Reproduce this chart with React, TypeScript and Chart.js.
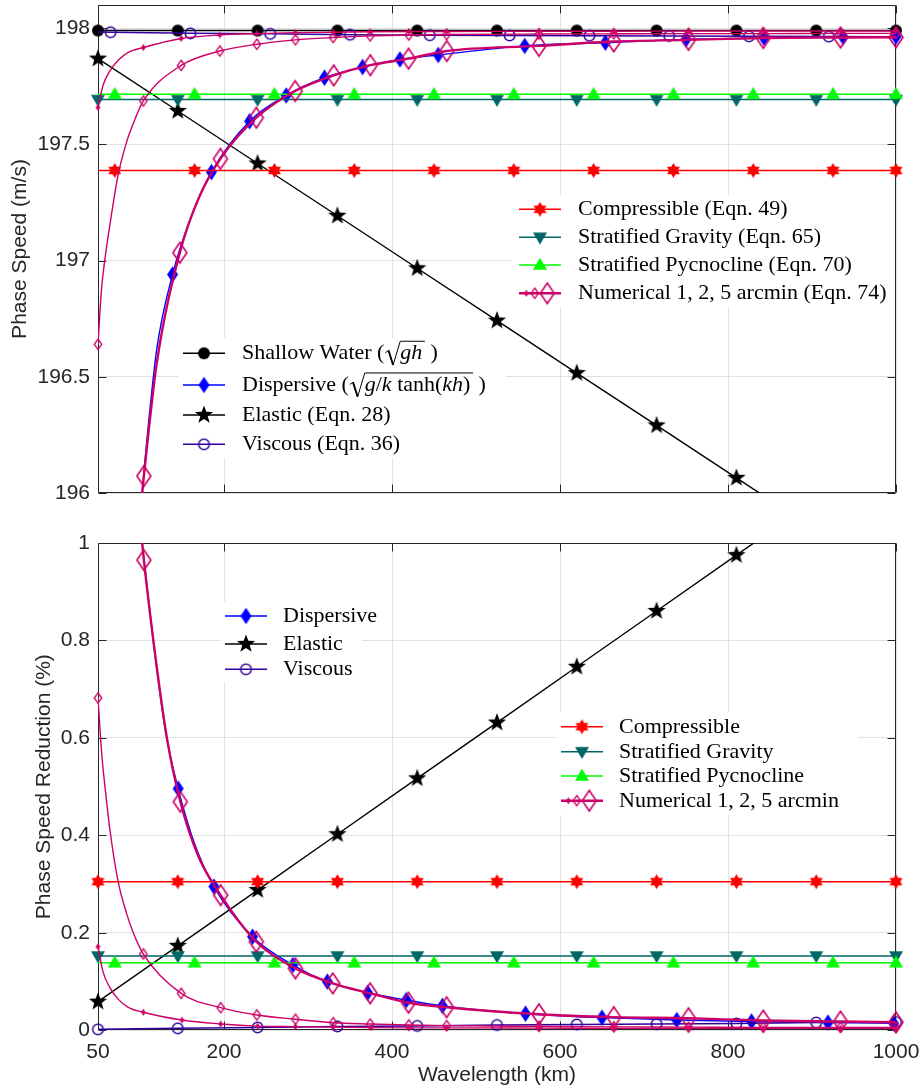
import React, { useEffect, useRef } from 'react';
import { Chart, registerables } from 'chart.js';

Chart.register(...registerables);

/* ---------------- axis ticks ---------------- */
const xTicks = [50, 200, 400, 600, 800, 1000];
const topYTicks = [196, 196.5, 197, 197.5, 198];
const botYTicks = [0, 0.2, 0.4, 0.6, 0.8, 1];

/* ---------------- shared marker positions ---------------- */
const waveX = [50, 145, 240, 335, 430, 525, 620, 715, 810, 905, 1000];
const shiftedX = [50, 70, 165, 260, 355, 450, 545, 640, 735, 830, 925, 1000];
const shiftedMk = [0, 1, 1, 1, 1, 1, 1, 1, 1, 1, 1, 1];

/* ---------------- top panel: phase speed (m/s) ---------------- */
const topShallowY = [197.99, 197.99, 197.99, 197.99, 197.99, 197.99, 197.99, 197.99, 197.99, 197.99, 197.99];
const topElasticY = [197.869, 197.644, 197.418, 197.193, 196.967, 196.742, 196.516, 196.291, 196.065, 195.84, 195.614];
const topViscousX = [50, 65, 160, 255, 350, 445, 540, 635, 730, 825, 920, 1000];
const topViscousY = [197.984, 197.983, 197.978, 197.976, 197.972, 197.97, 197.969, 197.968, 197.967, 197.965, 197.964, 197.963];
const topViscousMk = [0, 1, 1, 1, 1, 1, 1, 1, 1, 1, 1, 0];
const topCompressY = [197.388, 197.388, 197.388, 197.388, 197.388, 197.388, 197.388, 197.388, 197.388, 197.388, 197.388, 197.388];
const topGravityY = [197.693, 197.693, 197.693, 197.693, 197.693, 197.693, 197.693, 197.693, 197.693, 197.693, 197.693];
const topPycnoY = [197.716, 197.716, 197.716, 197.716, 197.716, 197.716, 197.716, 197.716, 197.716, 197.716, 197.716, 197.716];

const topDispX = [100, 108, 120, 138.7, 160, 185, 230.5, 274, 319.6, 365, 409.5, 455, 558, 654, 750, 843, 937, 1000];
const topDispY = [195.9, 196.22, 196.62, 196.94, 197.18, 197.381, 197.6, 197.711, 197.787, 197.833, 197.866, 197.885, 197.924, 197.938, 197.952, 197.958, 197.962, 197.964];
const topDispMk = [0, 0, 0, 1, 0, 1, 1, 1, 1, 1, 1, 1, 1, 1, 1, 1, 1, 1];

const topNum1X = [50, 56, 64, 74, 86, 104, 149, 195, 239, 285, 330, 374, 420, 465, 575, 664, 753, 842, 934, 1000];
const topNum1Y = [197.659, 197.755, 197.815, 197.862, 197.896, 197.917, 197.956, 197.971, 197.977, 197.981, 197.983, 197.985, 197.986, 197.986, 197.987, 197.987, 197.988, 197.988, 197.988, 197.988];
const topNum1Mk = [1, 0, 0, 0, 0, 1, 1, 1, 1, 1, 1, 1, 1, 1, 1, 1, 1, 1, 1, 1];

const topNum2X = [50, 54, 58, 64, 74, 84, 92, 104, 149, 195, 239, 285, 330, 374, 420, 465, 575, 664, 753, 842, 934, 1000];
const topNum2Y = [196.64, 196.87, 197.0, 197.15, 197.37, 197.51, 197.59, 197.687, 197.84, 197.902, 197.931, 197.95, 197.96, 197.967, 197.971, 197.973, 197.975, 197.976, 197.977, 197.977, 197.978, 197.978];
const topNum2Mk = [1, 0, 0, 0, 0, 0, 0, 1, 1, 1, 1, 1, 1, 1, 1, 1, 1, 1, 1, 1, 1, 1];

const topNum5X = [100, 104.6, 108, 120, 147.4, 170, 195.7, 238.5, 284.8, 330.6, 374.2, 419.7, 465.2, 575, 664, 753, 842, 934, 1000];
const topNum5Y = [195.9, 196.073, 196.19, 196.56, 197.034, 197.27, 197.438, 197.615, 197.73, 197.797, 197.841, 197.869, 197.902, 197.924, 197.943, 197.95, 197.958, 197.96, 197.961];
const topNum5Mk = [0, 1, 0, 0, 1, 0, 1, 1, 1, 1, 1, 1, 1, 1, 1, 1, 1, 1, 1];

/* ---------------- bottom panel: phase speed reduction (%) ---------------- */
const botElasticY = [0.0587, 0.1733, 0.2878, 0.4024, 0.517, 0.6315, 0.746, 0.8605, 0.975, 1.0896, 1.204];
const botViscousY = [0.002, 0.004, 0.006, 0.008, 0.009, 0.011, 0.012, 0.013, 0.014, 0.016, 0.017];
const botCompressY = [0.305, 0.305, 0.305, 0.305, 0.305, 0.305, 0.305, 0.305, 0.305, 0.305, 0.305];
const botGravityY = [0.1524, 0.1524, 0.1524, 0.1524, 0.1524, 0.1524, 0.1524, 0.1524, 0.1524, 0.1524, 0.1524];
const botPycnoY = [0.1387, 0.1387, 0.1387, 0.1387, 0.1387, 0.1387, 0.1387, 0.1387, 0.1387, 0.1387, 0.1387, 0.1387];

const botDispX = [100, 119.7, 131.6, 145.4, 165, 188, 234, 282, 323, 371, 417, 460, 559, 650, 739, 828, 919, 997];
const botDispY = [1.04, 0.745, 0.602, 0.496, 0.383, 0.295, 0.192, 0.134, 0.1, 0.077, 0.062, 0.05, 0.034, 0.026, 0.021, 0.018, 0.016, 0.0145];
const botDispMk = [0, 0, 0, 1, 0, 1, 1, 1, 1, 1, 1, 1, 1, 1, 1, 1, 1, 1];

const botNum1X = [50, 56, 64, 74, 86, 104, 150, 196, 240, 285, 330, 375, 420, 465, 575, 664, 753, 842, 934, 1000];
const botNum1Y = [0.1715, 0.12, 0.088, 0.064, 0.047, 0.037, 0.021, 0.013, 0.0085, 0.0075, 0.0065, 0.0055, 0.005, 0.005, 0.0045, 0.004, 0.004, 0.004, 0.004, 0.004];
const botNum1Mk = [1, 0, 0, 0, 0, 1, 1, 1, 1, 1, 1, 1, 1, 1, 1, 1, 1, 1, 1, 1];

const botNum2X = [50, 54.4, 58.3, 64.3, 74, 84, 92, 104, 149, 196, 239, 285, 330, 374, 420, 465, 575, 664, 753, 842, 934, 1000];
const botNum2Y = [0.682, 0.568, 0.5, 0.41, 0.305, 0.24, 0.2, 0.1565, 0.0759, 0.0464, 0.0314, 0.0226, 0.0156, 0.0129, 0.0109, 0.0095, 0.008, 0.007, 0.0065, 0.006, 0.006, 0.006];
const botNum2Mk = [1, 0, 0, 0, 0, 0, 0, 1, 1, 1, 1, 1, 1, 1, 1, 1, 1, 1, 1, 1, 1, 1];

const botNum5X = [100, 104.6, 120, 132, 148, 170, 196, 238.5, 285, 329.5, 374, 419.7, 465, 575, 664, 753, 842, 934, 1000];
const botNum5Y = [1.045, 0.965, 0.745, 0.6, 0.469, 0.355, 0.2775, 0.1818, 0.127, 0.0964, 0.0759, 0.0566, 0.0472, 0.033, 0.027, 0.0246, 0.02, 0.018, 0.0165];
const botNum5Mk = [0, 1, 0, 0, 1, 0, 1, 1, 1, 1, 1, 1, 1, 1, 1, 1, 1, 1, 1];

/* ---------------- styles ---------------- */
const SANS = '"Liberation Sans", Arial, Helvetica, sans-serif';
const SERIF = '"Liberation Serif", "Times New Roman", serif';
const TXT = '#262626';
const GRID = '#e1e1e1';
const C_BLACK = '#000000';
const C_BLUE = '#0000ff';
const C_VISC = '#3300a0';
const C_RED = '#ff0000';
const C_TEAL = '#006666';
const C_GREEN = '#00ff00';
const C_PINK = '#cc0066';

/* ---------------- marker images ---------------- */
function canvasMarker(w: number, h: number, draw: (c: CanvasRenderingContext2D, cx: number, cy: number) => void) {
  const cv = document.createElement('canvas');
  cv.width = w;
  cv.height = h;
  const c = cv.getContext('2d') as CanvasRenderingContext2D;
  draw(c, w / 2, h / 2);
  return cv;
}
function mCircle(d: number, color: string, filled: boolean, lw = 1.5) {
  const s = Math.ceil(d + 4);
  return canvasMarker(s, s, (c, cx, cy) => {
    c.beginPath();
    c.arc(cx, cy, d / 2, 0, Math.PI * 2);
    if (filled) { c.fillStyle = color; c.fill(); } else { c.strokeStyle = color; c.lineWidth = lw; c.stroke(); }
  });
}
function mStar(R: number, pts: number, inner: number, color: string) {
  const s = Math.ceil(2 * R + 4);
  return canvasMarker(s, s, (c, cx, cy) => {
    c.beginPath();
    for (let k = 0; k < pts * 2; k++) {
      const r = k % 2 === 0 ? R : R * inner;
      const a = -Math.PI / 2 + (k * Math.PI) / pts;
      const px = cx + r * Math.cos(a);
      const py = cy + r * Math.sin(a);
      if (k === 0) c.moveTo(px, py); else c.lineTo(px, py);
    }
    c.closePath();
    c.fillStyle = color;
    c.fill();
  });
}
function mTri(w: number, h: number, color: string, down: boolean) {
  const s = Math.ceil(Math.max(w, h * 1.3) + 4);
  return canvasMarker(s, s, (c, cx, cy) => {
    c.beginPath();
    if (down) {
      c.moveTo(cx - w / 2, cy - 0.4 * h);
      c.lineTo(cx + w / 2, cy - 0.4 * h);
      c.lineTo(cx, cy + 0.6 * h);
    } else {
      c.moveTo(cx - w / 2, cy + 0.4 * h);
      c.lineTo(cx + w / 2, cy + 0.4 * h);
      c.lineTo(cx, cy - 0.6 * h);
    }
    c.closePath();
    c.fillStyle = color;
    c.fill();
  });
}
function mDiamond(w: number, h: number, color: string, filled: boolean, lw = 1.5) {
  const sw = Math.ceil(w + 4);
  const sh = Math.ceil(h + 4);
  return canvasMarker(sw, sh, (c, cx, cy) => {
    c.beginPath();
    c.moveTo(cx, cy - h / 2);
    c.lineTo(cx + w / 2, cy);
    c.lineTo(cx, cy + h / 2);
    c.lineTo(cx - w / 2, cy);
    c.closePath();
    if (filled) { c.fillStyle = color; c.fill(); } else { c.strokeStyle = color; c.lineWidth = lw; c.stroke(); }
  });
}
function makeMarkers() {
  return {
    sw: mCircle(12, C_BLACK, true),
    visc: mCircle(10.5, C_VISC, false, 1.5),
    disp: mDiamond(11, 16.5, C_BLUE, true),
    elast: mStar(9.6, 5, 0.41, C_BLACK),
    comp: mStar(7.4, 6, 0.6, C_RED),
    grav: mTri(14, 12, C_TEAL, true),
    pyc: mTri(14, 12, C_GREEN, false),
    num1: mDiamond(4.8, 7, C_PINK, true),
    num2: mDiamond(7.5, 10.5, C_PINK, false, 1.3),
    num5: mDiamond(14, 20.5, C_PINK, false, 1.6),
  };
}
type Markers = ReturnType<typeof makeMarkers>;

/* ---------------- legend rich text ---------------- */
type Seg = { t: string; i?: boolean } | { sq: Seg[] };
const LEG_SIZE = 22;
function segFont(italic: boolean) { return `${italic ? 'italic ' : ''}${LEG_SIZE}px ${SERIF}`; }
function measureSegs(ctx: CanvasRenderingContext2D, segs: Seg[]): number {
  let w = 0;
  for (const s of segs) {
    if ('sq' in s) w += LEG_SIZE * 0.72 + measureSegs(ctx, s.sq) + LEG_SIZE * 0.12;
    else { ctx.font = segFont(!!s.i); w += ctx.measureText(s.t).width; }
  }
  return w;
}
function drawSegs(ctx: CanvasRenderingContext2D, segs: Seg[], x: number, y: number): number {
  const S = LEG_SIZE;
  for (const s of segs) {
    if ('sq' in s) {
      const rw = S * 0.72;
      const inner = measureSegs(ctx, s.sq);
      const top = y - S * 0.82;
      const bot = y + S * 0.26;
      ctx.save();
      ctx.strokeStyle = '#000';
      ctx.lineJoin = 'miter';
      ctx.lineWidth = S * 0.045;
      ctx.beginPath();
      ctx.moveTo(x + rw * 0.06, y - S * 0.3);
      ctx.lineTo(x + rw * 0.26, y - S * 0.4);
      ctx.lineTo(x + rw * 0.55, bot);
      ctx.lineTo(x + rw, top);
      ctx.lineTo(x + rw + inner + S * 0.12, top);
      ctx.stroke();
      ctx.lineWidth = S * 0.085;
      ctx.beginPath();
      ctx.moveTo(x + rw * 0.26, y - S * 0.4);
      ctx.lineTo(x + rw * 0.55, bot);
      ctx.stroke();
      ctx.restore();
      drawSegs(ctx, s.sq, x + rw, y);
      x += rw + inner + S * 0.12;
    } else {
      ctx.font = segFont(!!s.i);
      ctx.fillStyle = '#000';
      ctx.textBaseline = 'alphabetic';
      ctx.textAlign = 'left';
      ctx.fillText(s.t, x, y);
      x += ctx.measureText(s.t).width;
    }
  }
  return x;
}

type LegRow = { segs: Seg[]; color: string; lw: number; markers: { img: HTMLCanvasElement; dx: number }[] };
type Legend = { box: number[]; x0: number; x1: number; tx: number; rows: number[]; items: LegRow[] };

/* ---------------- series / panels ---------------- */
type Series = { x: number[]; y: number[]; mk?: number[]; color: string; lw: number; marker: HTMLCanvasElement; smooth?: boolean };
type Panel = {
  series: Series[];
  yMin: number; yMax: number; yTicks: number[];
  padding: { left: number; right: number; top: number; bottom: number };
  xAxisH: number; showX: boolean;
  yTitle: string; yTitlePad: number;
  legends: Legend[];
};

function buildDatasets(series: Series[]) {
  const out: any[] = [];
  const n = series.length;
  series.forEach((s, i) => {
    const pts = s.x.map((x, j) => ({ x, y: s.y[j] }));
    out.push({
      data: pts,
      borderColor: s.color,
      backgroundColor: s.color,
      borderWidth: s.lw,
      pointRadius: 0,
      pointHoverRadius: 0,
      showLine: true,
      fill: false,
      tension: 0,
      cubicInterpolationMode: s.smooth ? 'monotone' : 'default',
      capBezierPoints: false,
      clip: 0,
      order: 2 * (n - i) + 1,
    });
    out.push({
      data: pts.filter((_, j) => !s.mk || s.mk[j] === 1),
      showLine: false,
      pointStyle: s.marker,
      pointRadius: 6,
      pointHoverRadius: 6,
      borderWidth: 0,
      clip: 14,
      order: 2 * (n - i),
    });
  });
  return out;
}

function framePlugin(p: Panel) {
  return {
    id: 'frameAndLegend',
    beforeDatasetsDraw(chart: any) {
      const { ctx, chartArea: a, scales } = chart;
      const xs = scales.x, ys = scales.y;
      ctx.save();
      ctx.strokeStyle = TXT;
      ctx.lineWidth = 1;
      const L = Math.round(a.left) + 0.5, R = Math.round(a.right) - 0.5;
      const T = Math.round(a.top) + 0.5, B = Math.round(a.bottom) - 0.5;
      ctx.beginPath();
      ctx.rect(L, T, R - L, B - T);
      for (const v of xTicks) {
        const px = Math.round(xs.getPixelForValue(v)) + 0.5;
        ctx.moveTo(px, B); ctx.lineTo(px, B - 8);
        ctx.moveTo(px, T); ctx.lineTo(px, T + 8);
      }
      for (const v of p.yTicks) {
        const py = Math.round(ys.getPixelForValue(v)) + 0.5;
        ctx.moveTo(L, py); ctx.lineTo(L + 8, py);
        ctx.moveTo(R, py); ctx.lineTo(R - 8, py);
      }
      ctx.stroke();
      ctx.restore();
    },
    afterDatasetsDraw(chart: any) {
      const ctx: CanvasRenderingContext2D = chart.ctx;
      ctx.save();
      for (const lg of p.legends) {
        ctx.fillStyle = '#ffffff';
        ctx.fillRect(lg.box[0], lg.box[1], lg.box[2] - lg.box[0], lg.box[3] - lg.box[1]);
        lg.items.forEach((it, k) => {
          const y = lg.rows[k];
          ctx.strokeStyle = it.color;
          ctx.lineWidth = it.lw;
          ctx.beginPath();
          ctx.moveTo(lg.x0, y);
          ctx.lineTo(lg.x1, y);
          ctx.stroke();
          for (const m of it.markers) {
            const cx = m.dx < 0 ? (lg.x0 + lg.x1) / 2 : lg.x0 + m.dx;
            ctx.drawImage(m.img, cx - m.img.width / 2, y - m.img.height / 2);
          }
          drawSegs(ctx, it.segs, lg.tx, y + 6);
        });
      }
      ctx.restore();
    },
  };
}

function makeConfig(p: Panel): any {
  const tickFont = { family: SANS, size: 21 };
  return {
    type: 'line',
    data: { datasets: buildDatasets(p.series) },
    options: {
      animation: false,
      responsive: false,
      events: [],
      layout: { padding: p.padding, autoPadding: false },
      plugins: { legend: { display: false }, tooltip: { enabled: false } },
      scales: {
        x: {
          type: 'linear',
          min: 50,
          max: 1000,
          afterBuildTicks: (s: any) => { s.ticks = xTicks.map((v) => ({ value: v })); },
          afterFit: (s: any) => { s.height = p.xAxisH; s.paddingLeft = 0; s.paddingRight = 0; },
          grid: { color: GRID, lineWidth: 1, drawTicks: false },
          border: { display: false },
          ticks: {
            display: p.showX, autoSkip: false, maxRotation: 0, minRotation: 0, padding: 9,
            color: TXT, font: tickFont, callback: (v: any) => String(v),
          },
          title: p.showX
            ? { display: true, text: 'Wavelength (km)', color: TXT, font: tickFont, padding: { top: 0, bottom: 1 } }
            : { display: false },
        },
        y: {
          type: 'linear',
          min: p.yMin,
          max: p.yMax,
          afterBuildTicks: (s: any) => { s.ticks = p.yTicks.map((v) => ({ value: v })); },
          afterFit: (s: any) => { s.width = 98; s.paddingTop = 0; s.paddingBottom = 0; },
          grid: { color: GRID, lineWidth: 1, drawTicks: false },
          border: { display: false },
          ticks: { padding: 8, color: TXT, font: tickFont, callback: (v: any) => String(v) },
          title: { display: true, text: p.yTitle, color: TXT, font: tickFont, padding: { top: p.yTitlePad, bottom: 0 } },
        },
      },
    },
    plugins: [framePlugin(p)],
  };
}

function topPanel(M: Markers): Panel {
  return {
    series: [
      { x: waveX, y: topShallowY, color: C_BLACK, lw: 1.5, marker: M.sw },
      { x: topDispX, y: topDispY, mk: topDispMk, color: C_BLUE, lw: 1.4, marker: M.disp, smooth: true },
      { x: waveX, y: topElasticY, color: C_BLACK, lw: 1.4, marker: M.elast },
      { x: topViscousX, y: topViscousY, mk: topViscousMk, color: C_VISC, lw: 1.5, marker: M.visc },
      { x: shiftedX, y: topCompressY, mk: shiftedMk, color: C_RED, lw: 1.5, marker: M.comp },
      { x: waveX, y: topGravityY, color: C_TEAL, lw: 1.5, marker: M.grav },
      { x: shiftedX, y: topPycnoY, mk: shiftedMk, color: C_GREEN, lw: 1.5, marker: M.pyc },
      { x: topNum1X, y: topNum1Y, mk: topNum1Mk, color: C_PINK, lw: 1.4, marker: M.num1, smooth: true },
      { x: topNum2X, y: topNum2Y, mk: topNum2Mk, color: C_PINK, lw: 1.4, marker: M.num2, smooth: true },
      { x: topNum5X, y: topNum5Y, mk: topNum5Mk, color: C_PINK, lw: 2.4, marker: M.num5, smooth: true },
    ],
    yMin: 196, yMax: 198.1, yTicks: topYTicks,
    padding: { left: 0, right: 26, top: 5, bottom: 0 },
    xAxisH: 27, showX: false,
    yTitle: 'Phase Speed (m/s)', yTitlePad: 8,
    legends: [
      {
        box: [178, 338, 506, 458], x0: 183, x1: 225, tx: 242, rows: [353.3, 385, 415, 444.3],
        items: [
          { segs: [{ t: 'Shallow Water (' }, { sq: [{ t: 'gh', i: true }] }, { t: ' )' }], color: C_BLACK, lw: 1.5, markers: [{ img: M.sw, dx: -1 }] },
          { segs: [{ t: 'Dispersive (' }, { sq: [{ t: 'g', i: true }, { t: '/' }, { t: 'k', i: true }, { t: ' tanh(' }, { t: 'kh', i: true }, { t: ')' }] }, { t: ' )' }], color: C_BLUE, lw: 1.5, markers: [{ img: M.disp, dx: -1 }] },
          { segs: [{ t: 'Elastic (Eqn. 28)' }], color: C_BLACK, lw: 1.5, markers: [{ img: M.elast, dx: -1 }] },
          { segs: [{ t: 'Viscous (Eqn. 36)' }], color: C_VISC, lw: 1.5, markers: [{ img: M.visc, dx: -1 }] },
        ],
      },
      {
        box: [512, 195, 895, 308], x0: 519, x1: 561, tx: 578, rows: [209.3, 237.3, 265, 293.3],
        items: [
          { segs: [{ t: 'Compressible (Eqn. 49)' }], color: C_RED, lw: 1.5, markers: [{ img: M.comp, dx: -1 }] },
          { segs: [{ t: 'Stratified Gravity (Eqn. 65)' }], color: C_TEAL, lw: 1.5, markers: [{ img: M.grav, dx: -1 }] },
          { segs: [{ t: 'Stratified Pycnocline (Eqn. 70)' }], color: C_GREEN, lw: 1.5, markers: [{ img: M.pyc, dx: -1 }] },
          { segs: [{ t: 'Numerical 1, 2, 5 arcmin (Eqn. 74)' }], color: C_PINK, lw: 2.5, markers: [{ img: M.num1, dx: 7.3 }, { img: M.num2, dx: 15.7 }, { img: M.num5, dx: 28.3 }] },
        ],
      },
    ],
  };
}

function botPanel(M: Markers): Panel {
  return {
    series: [
      { x: botDispX, y: botDispY, mk: botDispMk, color: C_BLUE, lw: 1.4, marker: M.disp, smooth: true },
      { x: waveX, y: botElasticY, color: C_BLACK, lw: 1.4, marker: M.elast },
      { x: waveX, y: botViscousY, color: C_VISC, lw: 1.5, marker: M.visc },
      { x: waveX, y: botCompressY, color: C_RED, lw: 1.5, marker: M.comp },
      { x: waveX, y: botGravityY, color: C_TEAL, lw: 1.5, marker: M.grav },
      { x: shiftedX, y: botPycnoY, mk: shiftedMk, color: C_GREEN, lw: 1.5, marker: M.pyc },
      { x: botNum1X, y: botNum1Y, mk: botNum1Mk, color: C_PINK, lw: 1.4, marker: M.num1, smooth: true },
      { x: botNum2X, y: botNum2Y, mk: botNum2Mk, color: C_PINK, lw: 1.4, marker: M.num2, smooth: true },
      { x: botNum5X, y: botNum5Y, mk: botNum5Mk, color: C_PINK, lw: 2.4, marker: M.num5, smooth: true },
    ],
    yMin: 0, yMax: 1, yTicks: botYTicks,
    padding: { left: 0, right: 26, top: 23, bottom: 0 },
    xAxisH: 58.7, showX: true,
    yTitle: 'Phase Speed Reduction (%)', yTitlePad: 32,
    legends: [
      {
        box: [221, 82, 362, 162], x0: 225, x1: 267, tx: 283, rows: [96, 124, 149.3],
        items: [
          { segs: [{ t: 'Dispersive' }], color: C_BLUE, lw: 1.5, markers: [{ img: M.disp, dx: -1 }] },
          { segs: [{ t: 'Elastic' }], color: C_BLACK, lw: 1.5, markers: [{ img: M.elast, dx: -1 }] },
          { segs: [{ t: 'Viscous' }], color: C_VISC, lw: 1.5, markers: [{ img: M.visc, dx: -1 }] },
        ],
      },
      {
        box: [557, 192, 858, 295], x0: 561, x1: 603, tx: 619, rows: [206.7, 231.7, 256, 280.7],
        items: [
          { segs: [{ t: 'Compressible' }], color: C_RED, lw: 1.5, markers: [{ img: M.comp, dx: -1 }] },
          { segs: [{ t: 'Stratified Gravity' }], color: C_TEAL, lw: 1.5, markers: [{ img: M.grav, dx: -1 }] },
          { segs: [{ t: 'Stratified Pycnocline' }], color: C_GREEN, lw: 1.5, markers: [{ img: M.pyc, dx: -1 }] },
          { segs: [{ t: 'Numerical 1, 2, 5 arcmin' }], color: C_PINK, lw: 2.5, markers: [{ img: M.num1, dx: 7.3 }, { img: M.num2, dx: 15.7 }, { img: M.num5, dx: 28.3 }] },
        ],
      },
    ],
  };
}

export default function App() {
  const topRef = useRef<HTMLCanvasElement>(null);
  const botRef = useRef<HTMLCanvasElement>(null);
  useEffect(() => {
    const M = makeMarkers();
    const c1 = new Chart(topRef.current as HTMLCanvasElement, makeConfig(topPanel(M)));
    const c2 = new Chart(botRef.current as HTMLCanvasElement, makeConfig(botPanel(M)));
    return () => { c1.destroy(); c2.destroy(); };
  }, []);
  return (
    <div style={{ position: 'absolute', left: 0, top: 0, width: 922, height: 1089, background: '#ffffff' }}>
      <canvas ref={topRef} width={922} height={520} style={{ position: 'absolute', left: 0, top: 0, width: 922, height: 520 }} />
      <canvas ref={botRef} width={922} height={569} style={{ position: 'absolute', left: 0, top: 520, width: 922, height: 569 }} />
    </div>
  );
}
